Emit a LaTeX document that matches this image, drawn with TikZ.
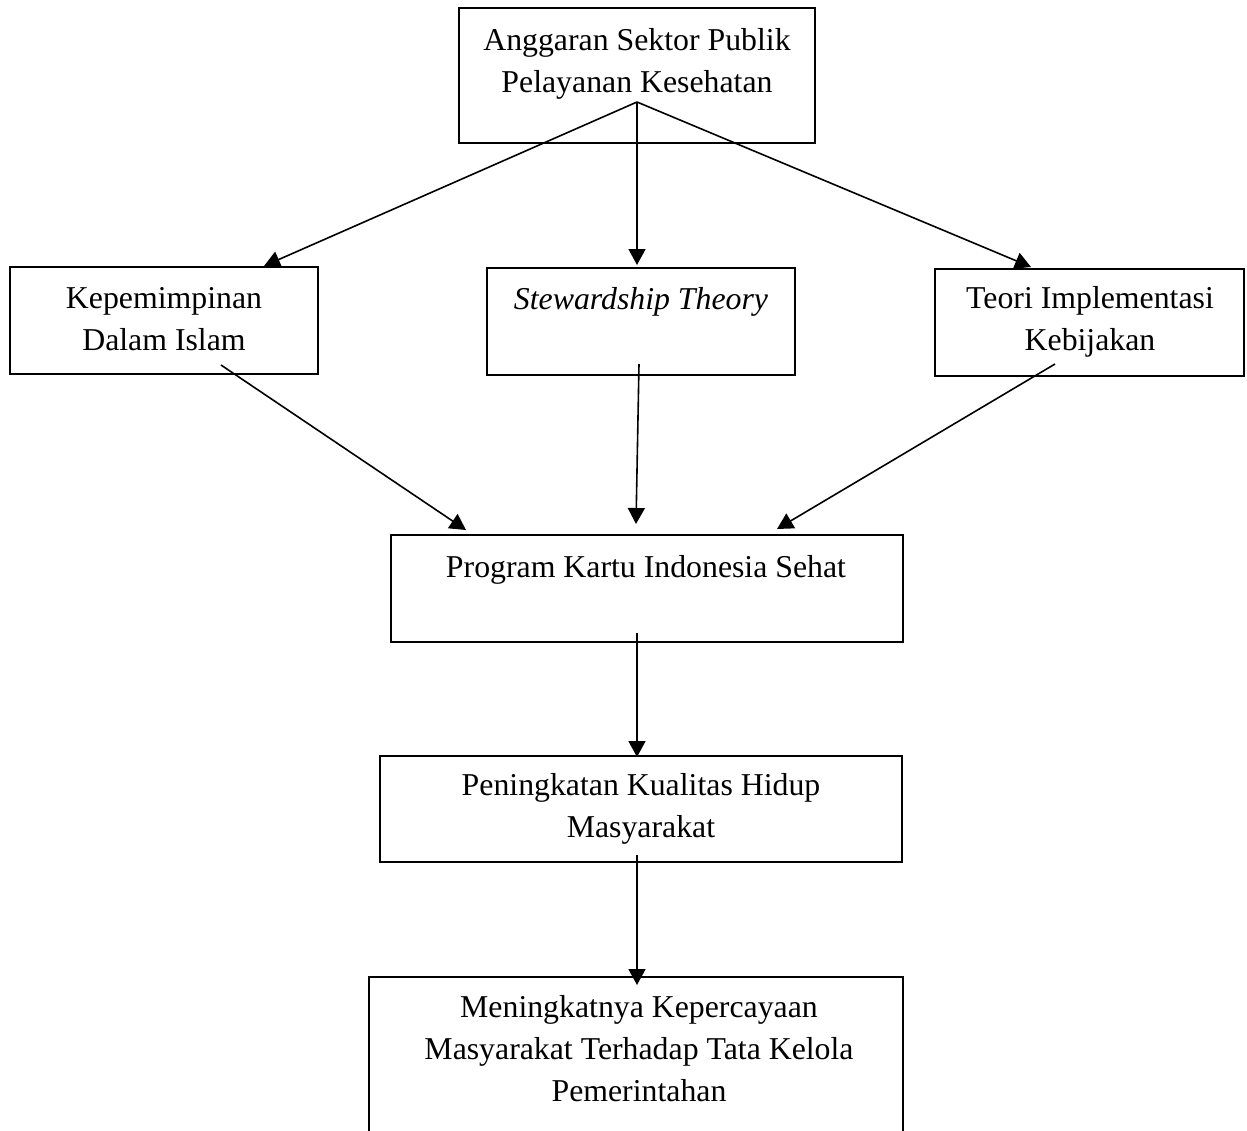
\documentclass[tikz,border=0pt]{standalone}
\usepackage{fontspec}
\setmainfont{Liberation Serif}
\usetikzlibrary{arrows.meta}
\tikzset{
  box/.style={draw, line width=1pt, inner sep=0pt, rectangle},
  txt/.style={anchor=north, inner sep=0pt, align=center,
    font=\fontsize{15.9pt}{21pt}\selectfont},
  arr/.style={line width=0.8pt, -{Triangle[length=8pt,width=8.5pt]}}
}
\newcommand{\topstrut}{\rule{0pt}{12pt}}
\begin{document}
\begin{tikzpicture}[x=0.5pt,y=-0.5pt]
\useasboundingbox (0,0) rectangle (1247,1130);
% boxes
\node[box, minimum width=178pt, minimum height=67.5pt] (top) at (637,75.5) {};
\node[box, minimum width=154pt, minimum height=53.5pt] (left) at (164,320.5) {};
\node[box, minimum width=154pt, minimum height=53.5pt] (mid) at (641,321.5) {};
\node[box, minimum width=154.5pt, minimum height=53.5pt] (right) at (1089.5,322.5) {};
\node[box, minimum width=256pt, minimum height=53.5pt] (prog) at (647,588.5) {};
\node[box, minimum width=261pt, minimum height=53pt] (pen) at (641,809) {};
\node[box, minimum width=267pt, minimum height=83pt] (men) at (636,1060) {};
% texts
\node[txt] (ttop) at (637,26) {\topstrut Anggaran Sektor Publik\\Pelayanan Kesehatan};
\node[txt] (tleft) at (164,284) {\topstrut Kepemimpinan\\Dalam Islam};
\node[txt] (tmid) at (641,285) {\topstrut\itshape Stewardship Theory};
\node[txt] (tright) at (1090,284) {\topstrut Teori Implementasi\\Kebijakan};
\node[txt] (tprog) at (646,553) {\topstrut Program Kartu Indonesia Sehat};
\node[txt] (tpen) at (641,771) {\topstrut Peningkatan Kualitas Hidup\\Masyarakat};
\node[txt] (tmen) at (639,993) {\topstrut Meningkatnya Kepercayaan\\Masyarakat Terhadap Tata Kelola\\Pemerintahan};
% connector end points
\coordinate (t0) at (637,102);
\coordinate (aL) at (264,266);
\coordinate (aM) at (637,265);
\coordinate (aR) at (1031,267);
\coordinate (l0) at (221,365);
\coordinate (m0) at (639,364);
\coordinate (r0) at (1055,364);
\coordinate (bL) at (466,530);
\coordinate (bM) at (636,524);
\coordinate (bR) at (777,529);
\coordinate (p0) at (637,633);
\coordinate (p1) at (637,757);
\coordinate (q0) at (637,855);
\coordinate (q1) at (637,985);
% connectors
\draw[arr] (t0) -- (aL);
\draw[arr] (t0) -- (aM);
\draw[arr] (t0) -- (aR);
\draw[arr] (l0) -- (bL);
\draw[arr] (m0) -- (bM);
\draw[arr] (r0) -- (bR);
\draw[arr] (p0) -- (p1);
\draw[arr] (q0) -- (q1);
\end{tikzpicture}
\end{document}
